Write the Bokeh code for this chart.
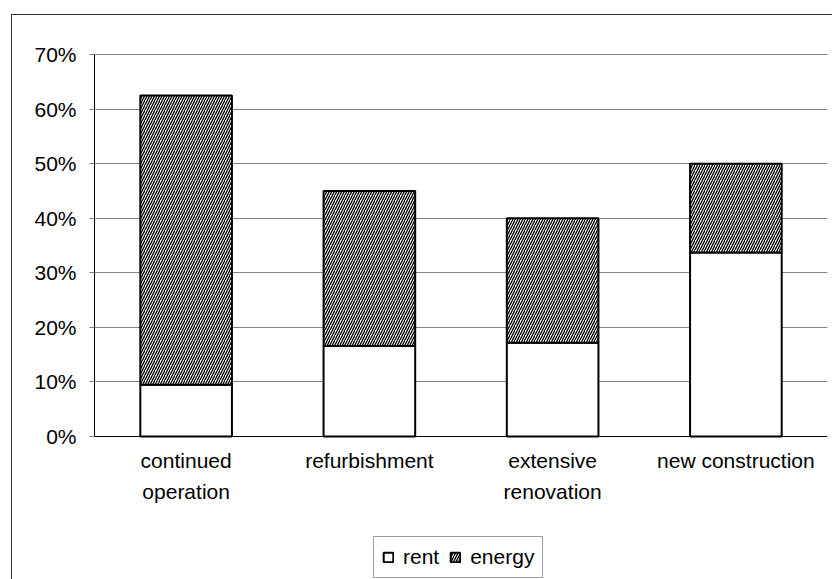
from bokeh.plotting import figure
from bokeh.models import (ColumnDataSource, FactorRange, Range1d, FixedTicker,
                          Legend, LegendItem, Span, InlineStyleSheet)
from bokeh.core.properties import value
from bokeh.embed import file_html
from bokeh.resources import INLINE

# ---- data ----
categories = ["continued\noperation", "refurbishment", "extensive\nrenovation", "new construction"]
rent = [9.5, 16.6, 17.2, 33.7]
energy = [53.0, 28.4, 22.8, 16.3]
y_ticks = [0, 10, 20, 30, 40, 50, 60, 70]
y_tick_labels = ["0%", "10%", "20%", "30%", "40%", "50%", "60%", "70%"]
series_names = ["rent", "energy"]

total = [r + e for r, e in zip(rent, energy)]
src = ColumnDataSource(dict(cat=categories, rent=rent, total=total,
                            zero=[0] * len(categories)))

FONT = "Liberation Sans"
FS = "21px"

# frame spans down to the bottom of the picture so that the legend (below the
# category labels) sits inside it; value axis is bounded to 0..70
Y_MAX = 70
Y_MIN = -Y_MAX * 143 / 382

p = figure(width=832, height=579, x_range=FactorRange(*categories),
           y_range=Range1d(Y_MIN, Y_MAX), x_axis_location=None,
           output_backend="svg", toolbar_location=None,
           min_border_left=94, min_border_right=5, min_border_top=54, min_border_bottom=0)
p.outline_line_color = None
p.background_fill_color = "white"
p.border_fill_color = "white"

# grid
p.xgrid.grid_line_color = None
p.ygrid.ticker = FixedTicker(ticks=y_ticks)
p.ygrid.grid_line_color = "#808080"
p.ygrid.grid_line_width = 1

# y axis
p.yaxis.ticker = FixedTicker(ticks=y_ticks)
p.yaxis.bounds = (0, Y_MAX)
p.yaxis.major_label_overrides = {t: l for t, l in zip(y_ticks, y_tick_labels)}
p.yaxis.major_label_text_font = FONT
p.yaxis.major_label_text_font_size = FS
p.yaxis.major_label_text_color = "black"
p.yaxis.major_tick_out = 5
p.yaxis.major_tick_in = 0
p.yaxis.major_tick_line_color = "#808080"
p.yaxis.minor_tick_line_color = None
p.yaxis.axis_line_color = "black"
p.yaxis.major_label_standoff = 13

# category axis line and top line of plot area
p.add_layout(Span(location=0, dimension="width", line_color="black", line_width=1))
p.add_layout(Span(location=Y_MAX, dimension="width", line_color="black", line_width=1))

# bars
r1 = p.vbar(x="cat", top="rent", bottom=0, width=0.5, source=src,
            fill_color="white", line_color="black", line_width=2)
r2 = p.vbar(x="cat", bottom="rent", top="total", width=0.5, source=src,
            fill_color="white", line_color="black", line_width=2,
            hatch_pattern="/", hatch_color="black", hatch_weight=1.3, hatch_scale=5)

# category labels
p.text(x="cat", y="zero", text="cat", source=src, y_offset=12,
       text_font=value(FONT), text_font_size=FS, text_color="black",
       text_align="center", text_baseline="top", text_line_height=1.38)

legend = Legend(items=[LegendItem(label=series_names[0], renderers=[r1]),
                       LegendItem(label=series_names[1], renderers=[r2])],
                location=(279, 1), orientation="horizontal",
                glyph_width=12, glyph_height=12,
                label_text_font=FONT, label_text_font_size=FS, label_text_color="black",
                padding=8, spacing=10, label_standoff=9, margin=0,
                border_line_color="#404040", border_line_width=1,
                background_fill_color="white", background_fill_alpha=1)
p.add_layout(legend, "center")

# outer chart border (left and top edges visible; right/bottom are off-page)
p.stylesheets = [InlineStyleSheet(css="""
:host { position: relative; }
:host::after { content: ''; position: absolute; left: 11px; top: 14px; right: 0; bottom: 0;
  border-left: 1px solid #333; border-top: 1px solid #333; pointer-events: none; }
""")]

open("out.html", "w").write(file_html(p, INLINE))
